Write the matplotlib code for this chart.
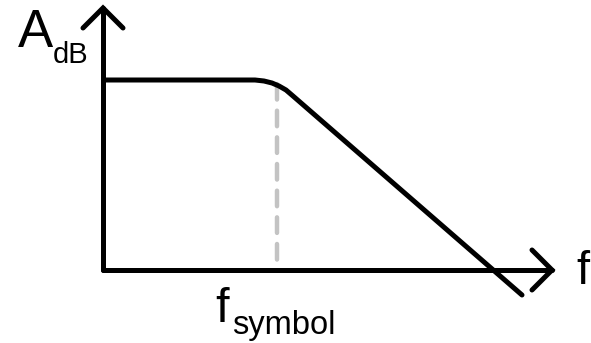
import matplotlib
matplotlib.use("Agg")
import matplotlib.pyplot as plt
import numpy as np

# Schematic Bode magnitude plot (pixel-like coordinate system)
curve_x = [105, 255, 264, 272, 279, 286, 293, 522]
curve_y = [80, 80, 81, 83, 86, 90, 96, 295]
knee_x = 277
level_y = 80
axis_origin = (103, 270)
y_axis_top = 8
x_axis_right = 552

plt.rcParams['font.family'] = ['Liberation Sans', 'DejaVu Sans']
fig = plt.figure(figsize=(5.91, 3.43), dpi=100)
ax = fig.add_axes([0, 0, 1, 1])
ax.set_xlim(0, 591)
ax.set_ylim(343, 0)
ax.axis('off')

lw = 3.6
ox, oy = axis_origin
# dashed knee marker
ax.plot([knee_x, knee_x], [level_y + 4, oy], color='#c3c3c3', lw=3.2,
        dashes=(3.5, 2.5), solid_capstyle='round', dash_capstyle='round', zorder=1)
# axes
ax.plot([ox, ox], [oy, y_axis_top], color='black', lw=lw, solid_capstyle='round', zorder=2)
ax.plot([ox, x_axis_right], [oy, oy], color='black', lw=lw, solid_capstyle='round', zorder=2)
# arrow heads
a = 20
ax.plot([ox - a, ox, ox + a], [y_axis_top + a, y_axis_top, y_axis_top + a], color='black',
        lw=lw, solid_capstyle='round', solid_joinstyle='miter', zorder=2)
ax.plot([x_axis_right - a, x_axis_right, x_axis_right - a], [oy - a, oy, oy + a], color='black',
        lw=lw, solid_capstyle='round', solid_joinstyle='miter', zorder=2)
# response curve
ax.plot(curve_x, curve_y, color='black', lw=lw, solid_capstyle='round', solid_joinstyle='round', zorder=3)

# labels
ax.text(18, 47, 'A', fontsize=38, ha='left', va='baseline')
ax.text(53, 63, 'dB', fontsize=21, ha='left', va='baseline')
ax.text(576, 284, 'f', fontsize=34, ha='left', va='baseline')
ax.text(215, 322, 'f', fontsize=35, ha='left', va='baseline')
ax.text(232, 334, 'symbol', fontsize=23.5, ha='left', va='baseline')

fig.savefig('out.png', dpi=100)
